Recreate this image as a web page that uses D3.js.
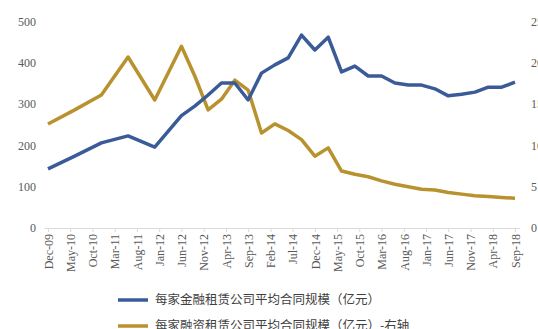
<!DOCTYPE html>
<html>
<head>
<meta charset="utf-8">
<script src="https://cdn.jsdelivr.net/npm/d3@7/dist/d3.min.js"></script>
<style>
  body { margin: 0; background: #fff; }
  svg { display: block; }
</style>
</head>
<body>
<div id="chart"></div>
<script>
// Data
const dates = ['Dec-09', 'Jun-10', 'Dec-10', 'Jun-11', 'Dec-11', 'Jun-12', 'Sep-12', 'Dec-12',
    'Mar-13', 'Jun-13', 'Sep-13', 'Dec-13', 'Mar-14', 'Jun-14', 'Sep-14', 'Dec-14',
    'Mar-15', 'Jun-15', 'Sep-15', 'Dec-15', 'Mar-16', 'Jun-16', 'Sep-16', 'Dec-16',
    'Mar-17', 'Jun-17', 'Sep-17', 'Dec-17', 'Mar-18', 'Jun-18', 'Sep-18'];
const financialLeasing = [143, 174, 206, 223, 196, 272, 295, 322,
    351, 351, 310, 375, 395, 412, 467, 431,
    462, 378, 392, 368, 368, 351, 346, 346,
    337, 320, 324, 329, 341, 341, 353];
const financeLeasing = [12.6, 14.3, 16.1, 20.7, 15.5, 22.0, 18.4, 14.3,
    15.6, 17.9, 16.7, 11.5, 12.6, 11.8, 10.7, 8.7,
    9.7, 6.9, 6.5, 6.2, 5.7, 5.3, 5.0, 4.7,
    4.6, 4.3, 4.1, 3.9, 3.8, 3.7, 3.6];
const tickLabels = ['Dec-09', 'May-10', 'Oct-10', 'Mar-11', 'Aug-11', 'Jan-12', 'Jun-12', 'Nov-12',
    'Apr-13', 'Sep-13', 'Feb-14', 'Jul-14', 'Dec-14', 'May-15', 'Oct-15', 'Mar-16',
    'Aug-16', 'Jan-17', 'Jun-17', 'Nov-17', 'Apr-18', 'Sep-18'];
const leftTicks = [0, 100, 200, 300, 400, 500];
const rightTicks = [0, 5, 10, 15, 20, 25];
const seriesNames = ['每家金融租赁公司平均合同规模（亿元）', '每家融资租赁公司平均合同规模（亿元）-右轴'];
const seriesColors = ['#3a5b97', '#b8922e'];

const width = 538, height = 329;
const parseMonth = d3.timeParse('%b-%y');
// months since Dec-09
function monthIndex(label) {
    const d = parseMonth(label);
    return (d.getFullYear() - 2009) * 12 + d.getMonth() - 11;
}

const svg = d3.select('#chart')
    .append('svg')
    .attr('width', width)
    .attr('height', height);

const x = d3.scaleLinear().domain([0, 105]).range([48, 515]);
const yLeft = d3.scaleLinear().domain([0, 500]).range([228, 21.5]);
const yRight = d3.scaleLinear().domain([0, 25]).range([228, 21.5]);

const textColor = '#595959';
const serif = '"Liberation Serif", "DejaVu Serif", serif';

// Left axis labels
svg.append('g')
    .selectAll('text')
    .data(leftTicks)
    .enter()
    .append('text')
    .attr('x', 36)
    .attr('y', function(d) { return yLeft(d); })
    .attr('dy', '0.35em')
    .attr('text-anchor', 'end')
    .attr('font-family', serif)
    .attr('font-size', '12px')
    .attr('fill', textColor)
    .text(function(d) { return d; });

// Right axis labels (the picture edge cuts them, as in the source)
svg.append('g')
    .selectAll('text')
    .data(rightTicks)
    .enter()
    .append('text')
    .attr('x', 531)
    .attr('y', function(d) { return yRight(d); })
    .attr('dy', '0.35em')
    .attr('text-anchor', 'start')
    .attr('font-family', serif)
    .attr('font-size', '12px')
    .attr('fill', textColor)
    .text(function(d) { return d; });

// X axis
const xAxis = d3.axisBottom(x)
    .tickValues(tickLabels.map(monthIndex))
    .tickFormat(function(d, i) { return tickLabels[i]; })
    .tickSize(4)
    .tickSizeOuter(0);

const gx = svg.append('g')
    .attr('transform', 'translate(0,228)')
    .call(xAxis);
gx.select('.domain').attr('stroke', '#d9d9d9').attr('d', 'M44.5,0.5H520');
gx.selectAll('.tick line').attr('stroke', '#d9d9d9');
gx.selectAll('.tick text')
    .attr('font-family', serif)
    .attr('font-size', '12px')
    .attr('fill', textColor)
    .attr('text-anchor', 'end')
    .attr('transform', 'rotate(-90)')
    .attr('x', -6)
    .attr('y', 0)
    .attr('dy', '0.35em');

// Lines
const months = dates.map(monthIndex);
const lineLeft = d3.line()
    .x(function(d, i) { return x(months[i]); })
    .y(function(d) { return yLeft(d); });
const lineRight = d3.line()
    .x(function(d, i) { return x(months[i]); })
    .y(function(d) { return yRight(d); });

svg.append('path')
    .datum(financeLeasing)
    .attr('fill', 'none')
    .attr('stroke', seriesColors[1])
    .attr('stroke-width', 3.5)
    .attr('stroke-linejoin', 'round')
    .attr('d', lineRight);

svg.append('path')
    .datum(financialLeasing)
    .attr('fill', 'none')
    .attr('stroke', seriesColors[0])
    .attr('stroke-width', 3.5)
    .attr('stroke-linejoin', 'round')
    .attr('d', lineLeft);

// Legend
const legend = svg.append('g');
seriesNames.forEach(function(name, i) {
    const yy = 300 + i * 26;
    legend.append('line')
        .attr('x1', 118)
        .attr('x2', 148)
        .attr('y1', yy)
        .attr('y2', yy)
        .attr('stroke', seriesColors[i])
        .attr('stroke-width', 3.5);
    legend.append('text')
        .attr('x', 155)
        .attr('y', yy)
        .attr('dy', '0.35em')
        .attr('font-family', '"Noto Sans CJK SC", sans-serif')
        .attr('font-size', '12.5px')
        .attr('fill', '#404040')
        .text(name);
});
</script>
</body>
</html>
